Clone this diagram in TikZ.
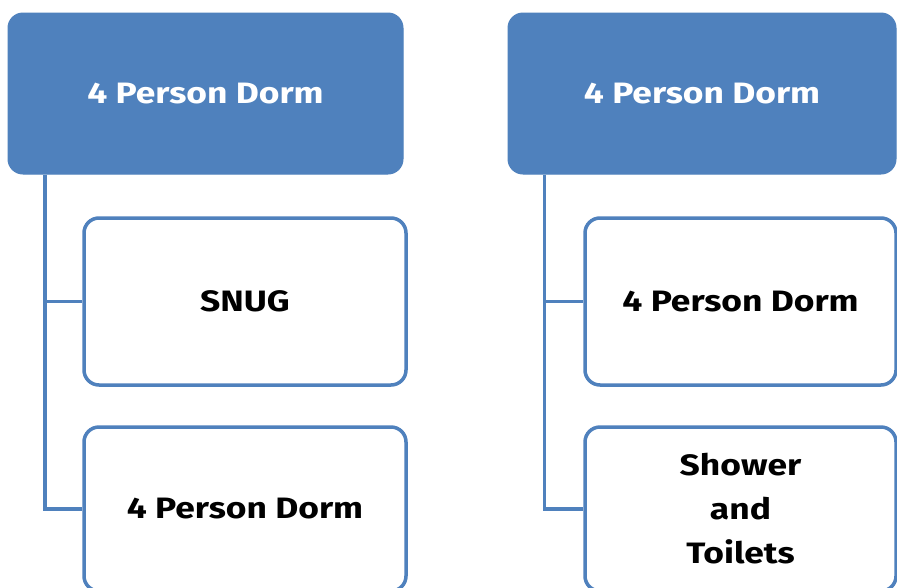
\documentclass[tikz,border=0pt]{standalone}
\usepackage{fontspec}
\setmainfont{Fira Sans}[FakeStretch=1.2]
\begin{document}
\begin{tikzpicture}[x=1pt,y=-1pt,
  topbox/.style={draw=dormblue,fill=dormblue,rounded corners=15pt,line width=1pt,
    text=white,font=\fontsize{29.5}{44}\selectfont\bfseries,align=center,inner sep=0pt},
  childbox/.style={draw=dormblue,fill=white,rounded corners=15pt,line width=3.5pt,
    text=black,font=\fontsize{29.5}{44}\selectfont\bfseries,align=center,inner sep=0pt},
  link/.style={draw=dormblue,line width=3.5pt}]
\definecolor{dormblue}{HTML}{4F81BD}
\useasboundingbox (0,0) rectangle (897,587);
\clip (0,0) rectangle (897,587);
\fill[white] (0,0) rectangle (897,587);
% left column
\node[topbox,minimum width=395pt,minimum height=161pt] (tl) at (205.5,93.5) {4 Person Dorm};
\node[childbox,minimum width=322pt,minimum height=167pt] (lc1) at (245,301.5) {SNUG};
\node[childbox,minimum width=322pt,minimum height=164pt] (lc2) at (245,509) {4 Person Dorm};
\coordinate (lj) at ([xshift=37.5pt]tl.south west);
\draw[link] (lj) |- (lc2.west);
\draw[link] (lj |- lc1.west) -- (lc1.west);
% right column
\node[topbox,minimum width=388pt,minimum height=161pt] (tr) at (702,93.5) {4 Person Dorm};
\node[childbox,minimum width=311pt,minimum height=167pt] (rc1) at (740.5,301.5) {4 Person Dorm};
\node[childbox,minimum width=311pt,minimum height=164pt] (rc2) at (740.5,509) {Shower\\and\\Toilets};
\coordinate (rj) at ([xshift=37pt]tr.south west);
\draw[link] (rj) |- (rc2.west);
\draw[link] (rj |- rc1.west) -- (rc1.west);
\end{tikzpicture}
\end{document}
